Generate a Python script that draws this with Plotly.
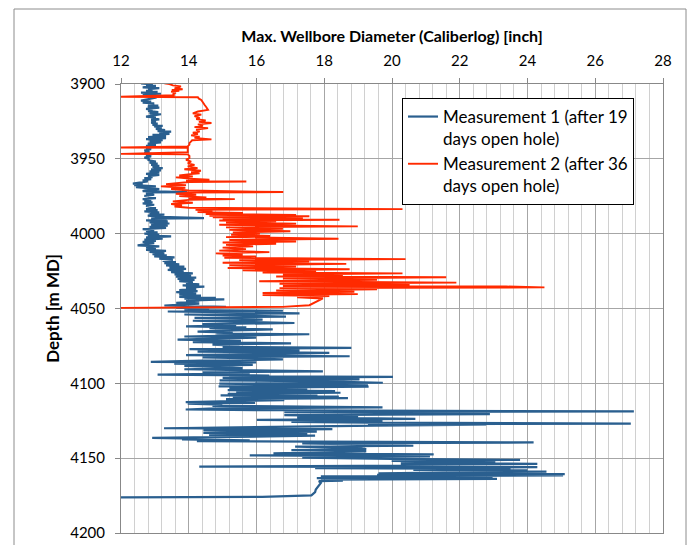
import plotly.graph_objects as go

# ---------------- data ----------------
# Measurement 1 (after 19 days open hole): depth [m MD] and max. diameter [inch]
m1_depth = [
    3899.0, 3899.6, 3900.2, 3900.7, 3901.3, 3902.2, 3902.8, 3903.4, 3904.0, 3904.6,
    3905.2, 3905.8, 3906.5, 3907.0, 3907.6, 3908.3, 3909.0, 3909.6, 3910.3, 3911.1,
    3911.8, 3912.5, 3912.9, 3913.8, 3914.5, 3915.1, 3915.8, 3916.6, 3917.3, 3918.0,
    3918.8, 3919.6, 3920.2, 3921.0, 3921.8, 3922.5, 3923.0, 3923.6, 3924.4, 3925.1,
    3925.8, 3926.5, 3927.3, 3928.0, 3928.4, 3929.2, 3930.0, 3930.8, 3931.5, 3931.8,
    3932.5, 3933.3, 3934.0, 3934.6, 3935.4, 3936.2, 3936.8, 3937.6, 3938.4, 3939.0,
    3939.8, 3940.7, 3941.3, 3942.1, 3942.9, 3943.6, 3944.3, 3945.1, 3946.0, 3946.8,
    3947.6, 3948.4, 3949.2,
    3950.0, 3950.8, 3951.8, 3952.5, 3953.2, 3954.0, 3954.7, 3955.4, 3956.2, 3957.0,
    3957.7, 3958.4, 3959.2, 3960.0, 3960.7, 3961.5, 3962.2, 3962.9, 3963.6, 3964.4,
    3965.1, 3965.8, 3966.5, 3966.9, 3967.6, 3968.4, 3969.0, 3969.6, 3970.2, 3970.9,
    3971.6, 3972.2, 3972.5, 3973.2, 3974.0, 3974.8, 3975.5, 3976.2, 3976.9, 3977.6,
    3978.4, 3979.1, 3979.8, 3980.7, 3981.4, 3982.1, 3982.9, 3983.6, 3984.3, 3985.1,
    3985.8, 3986.5, 3987.3, 3988.0, 3988.8, 3989.6, 3989.9, 3990.6, 3991.1, 3991.8,
    3992.4, 3993.2, 3994.0, 3994.7, 3995.4, 3996.2, 3997.0, 3997.7, 3998.4, 3999.2,
    4000.0,
    4000.7, 4001.3, 4001.8, 4002.5, 4003.3, 4004.0, 4004.8, 4005.5, 4006.3, 4007.0,
    4007.8, 4008.5, 4009.2, 4010.0, 4010.8, 4011.5, 4012.2, 4013.0, 4013.7, 4014.5,
    4015.2, 4015.9, 4016.7, 4017.5, 4018.2, 4019.0, 4019.7, 4020.5, 4021.2, 4022.0,
    4022.7, 4023.5, 4024.2, 4024.9, 4025.7, 4026.5, 4027.2, 4028.0, 4028.7, 4029.4,
    4030.2, 4030.9, 4031.7, 4032.4, 4033.2, 4033.9, 4034.6, 4035.4, 4036.1, 4036.9,
    4037.7, 4038.4, 4039.1, 4039.9, 4040.6, 4041.4, 4042.2, 4042.9, 4043.5, 4043.9,
    4044.7, 4045.4, 4046.2, 4046.8, 4047.4, 4048.0, 4048.9,
    4049.4, 4050.3, 4051.0, 4051.5, 4052.0, 4053.2, 4054.0, 4055.4, 4056.2, 4056.8,
    4057.5, 4058.2, 4059.7, 4060.5, 4061.2, 4061.9, 4062.6, 4063.2, 4064.0, 4064.8,
    4065.5, 4066.2, 4066.7, 4067.2, 4068.0, 4068.7, 4069.4, 4070.0, 4070.8, 4071.6,
    4072.4, 4073.3, 4074.1, 4075.0, 4075.6, 4076.3, 4077.1, 4078.0, 4078.8, 4079.7,
    4080.5, 4081.2, 4081.9, 4082.7, 4083.4, 4084.0, 4084.8, 4085.6, 4086.0, 4086.8,
    4087.7, 4088.4, 4089.2, 4089.9, 4090.6, 4091.3, 4092.0, 4092.6, 4093.4, 4094.2,
    4094.8, 4095.3, 4095.7, 4096.4, 4097.4, 4098.0, 4098.7, 4099.6, 4100.2, 4101.3,
    4102.0, 4102.2, 4103.0, 4103.6, 4104.5, 4105.2, 4105.8, 4106.3, 4107.0, 4107.5,
    4108.1, 4108.8, 4109.4, 4109.9, 4110.5, 4111.2, 4111.8, 4112.6, 4113.0, 4113.5,
    4114.2, 4115.0, 4116.1, 4116.8, 4117.5, 4118.0, 4118.8, 4119.3, 4119.9, 4120.6,
    4121.2, 4122.0, 4122.8, 4123.8, 4124.4, 4125.1, 4125.8, 4126.3, 4126.9, 4127.3,
    4127.6, 4128.3, 4129.0, 4130.0, 4130.6, 4131.4, 4132.2, 4133.2, 4133.8, 4134.4,
    4135.0, 4135.7, 4136.5, 4136.9, 4137.4, 4138.1, 4138.7, 4139.5, 4140.1, 4140.8,
    4141.7, 4142.3, 4143.1, 4143.9, 4144.6, 4145.5, 4146.2, 4146.8, 4147.5, 4148.2,
    4148.9, 4149.6, 4150.5, 4151.1, 4151.8, 4152.5, 4153.2, 4153.8, 4154.5, 4155.0,
    4155.6, 4156.0, 4156.7, 4157.2, 4157.8, 4158.2, 4158.6, 4159.0, 4159.6, 4160.2,
    4160.7, 4161.1, 4161.5, 4162.1, 4162.9, 4163.4, 4163.8, 4164.3, 4165.1, 4165.4,
    4166.5, 4168.0, 4169.5, 4171.0, 4172.7, 4174.9, 4175.8, 4176.2,
]
m1_diam = [
    12.80, 12.59, 12.94, 12.74, 13.03, 12.64, 13.13, 12.80, 12.93, 12.74,
    13.08, 12.59, 13.18, 12.64, 13.15, 12.84, 13.05, 12.93, 12.70, 12.59,
    12.89, 12.64, 12.98, 12.80, 13.10, 12.79, 13.13, 12.74, 12.93, 12.80,
    13.10, 12.84, 13.18, 12.90, 12.74, 13.03, 12.89, 13.13, 12.89, 13.03,
    12.89, 13.08, 12.93, 13.23, 12.98, 13.20, 13.03, 13.30, 13.08, 13.48,
    13.13, 13.43, 12.93, 13.33, 12.80, 13.33, 12.74, 13.23, 12.84, 13.18,
    12.79, 13.03, 12.74, 12.93, 12.74, 12.89, 12.69, 12.84, 12.69, 12.93,
    12.74, 12.89, 12.69,
    12.84, 12.79, 13.03, 12.84, 13.08, 12.89, 13.13, 12.93, 13.23, 12.89,
    13.18, 12.84, 13.13, 12.74, 13.13, 12.80, 12.93, 12.69, 12.89, 12.64,
    12.79, 12.59, 12.35, 12.64, 12.39, 13.03, 12.44, 12.80, 13.13, 12.74,
    12.64, 13.96, 12.84, 12.74, 12.98, 12.69, 12.93, 13.03, 12.64, 12.89,
    12.69, 12.93, 12.64, 12.98, 12.74, 12.93, 13.03, 12.74, 13.08, 12.69,
    13.13, 12.84, 13.28, 12.79, 13.18, 14.45, 12.89, 13.35, 12.74, 13.38,
    12.84, 13.43, 12.89, 13.38, 12.84, 13.33, 12.64, 12.98, 12.74, 13.08,
    12.69,
    13.13, 12.79, 13.48, 12.74, 13.23, 12.69, 13.03, 12.64, 12.98, 12.69,
    12.49, 13.13, 12.74, 13.03, 12.74, 13.33, 12.84, 13.28, 12.93, 13.35,
    12.98, 13.58, 13.13, 13.53, 13.23, 13.62, 13.28, 13.72, 13.33, 13.87,
    13.43, 13.92, 13.38, 13.85, 13.48, 14.12, 13.58, 14.07, 13.62, 14.22,
    13.67, 14.17, 13.72, 14.12, 13.92, 14.31, 13.82, 14.46, 13.92, 14.22,
    13.72, 14.26, 13.63, 14.22, 13.72, 14.36, 13.72, 14.80, 13.87, 15.05,
    13.92, 14.31, 13.63, 14.31, 13.58, 13.28, 15.10,
    13.63, 14.60, 13.87, 16.78, 13.38, 17.27, 13.87, 16.87, 14.17, 15.60,
    16.18, 14.12, 17.12, 14.40, 15.40, 13.92, 15.70, 14.61, 16.48, 15.00,
    14.26, 15.30, 14.81, 17.56, 15.10, 13.87, 15.99, 14.50, 13.67, 15.54,
    14.12, 17.02, 14.70, 15.50, 15.00, 18.80, 14.02, 17.27, 14.26, 18.15,
    15.20, 13.92, 18.75, 14.41, 16.00, 16.78, 14.40, 12.88, 15.99, 13.57,
    15.89, 13.87, 15.00, 15.59, 13.87, 15.40, 17.96, 14.41, 15.80, 13.08,
    16.38, 15.20, 20.03, 15.00, 19.04, 14.91, 18.00, 19.73, 14.90, 19.29,
    14.88, 19.31, 15.20, 17.50, 15.15, 18.32, 15.40, 18.48, 15.15, 17.80,
    14.94, 18.43, 15.30, 18.70, 15.10, 16.82, 15.80, 13.91, 15.96, 13.97,
    14.99, 14.70, 19.72, 14.61, 13.91, 16.82, 27.14, 16.82, 20.50, 22.89,
    16.82, 19.00, 17.20, 20.69, 16.01, 19.72, 17.03, 19.29, 27.05, 19.29,
    22.78, 19.50, 17.00, 13.27, 18.24, 14.43, 17.78, 14.43, 17.50, 14.60,
    17.73, 14.40, 12.92, 14.24, 13.80, 15.80, 14.24, 24.18, 17.35, 19.00,
    20.63, 17.14, 19.00, 19.24, 17.03, 19.24, 17.35, 16.50, 21.23, 15.80,
    21.12, 17.35, 19.99, 23.78, 19.99, 23.05, 20.26, 24.29, 20.26, 20.60,
    14.31, 24.29, 17.73, 23.50, 20.63, 24.00, 22.95, 24.56, 21.50, 19.60,
    25.10, 19.56, 25.05, 17.90, 22.97, 17.78, 23.10, 17.90, 18.55, 17.84,
    17.90, 17.84, 17.80, 17.75, 17.73, 17.62, 16.17, 12.00,
]

# Measurement 2 (after 36 days open hole)
m2_depth = [
    3899.5, 3900.0, 3900.9, 3901.6, 3902.0, 3902.9, 3903.5, 3904.0, 3904.6, 3905.1,
    3905.8, 3906.7, 3907.5, 3908.0, 3908.5, 3908.9, 3909.8, 3910.7, 3912.0, 3914.0,
    3915.5, 3917.3, 3918.4, 3919.6, 3920.5, 3921.5, 3922.6, 3923.5, 3924.4, 3925.3,
    3926.1, 3927.0, 3928.0, 3928.8, 3929.5, 3930.5, 3931.8, 3932.6, 3933.5, 3934.3,
    3935.2, 3936.0, 3937.0, 3937.6, 3938.4, 3939.5, 3940.5, 3941.7, 3942.4, 3942.7,
    3944.0, 3945.5, 3946.7, 3947.0, 3948.0, 3949.6,
    3950.6, 3951.8, 3953.0, 3954.0, 3955.0, 3956.2, 3957.0, 3958.0, 3959.0, 3959.6,
    3960.4, 3961.1, 3961.8, 3962.4, 3963.2, 3964.0, 3964.6, 3965.1, 3965.5, 3966.3,
    3966.9, 3967.6, 3968.4, 3969.3, 3970.2, 3971.2, 3972.2, 3972.6, 3973.3, 3974.0,
    3974.9, 3975.8, 3976.4, 3976.9, 3977.4, 3978.4, 3979.3, 3980.2, 3981.0, 3981.8,
    3982.7, 3983.6, 3984.0, 3984.8, 3985.6, 3986.2, 3986.9, 3987.5, 3988.0, 3988.4,
    3989.0, 3989.6, 3990.1, 3990.7, 3991.2, 3991.8, 3992.5, 3993.3, 3994.0, 3994.5,
    3995.1, 3995.8, 3996.7, 3997.5, 3998.4, 3999.2,
    4000.0, 4000.7, 4001.5, 4002.3, 4003.4, 4004.2, 4005.2, 4005.9, 4006.7, 4007.5,
    4008.5, 4009.3, 4010.3, 4011.3, 4012.3, 4013.2, 4014.1, 4014.7, 4015.2, 4016.1,
    4017.0, 4017.7, 4018.6, 4019.4, 4020.2, 4021.1, 4022.0, 4022.9, 4023.8, 4024.5,
    4025.3, 4025.9, 4026.5, 4027.3, 4028.0, 4028.6, 4029.1, 4030.0, 4030.9, 4031.8,
    4032.7, 4033.5, 4034.3, 4035.0, 4035.3, 4035.9, 4036.4, 4037.2, 4038.0, 4038.8,
    4039.6, 4040.4, 4041.0, 4041.7, 4042.5, 4043.3, 4045.5, 4047.8, 4048.9, 4049.6,
]
m2_diam = [
    13.28, 13.43, 13.53, 13.77, 13.72, 13.58, 13.82, 13.50, 13.72, 13.48,
    13.62, 13.53, 13.58, 12.00, 12.00, 14.27, 14.30, 14.37, 14.42, 14.47,
    14.52, 14.57, 14.27, 14.12, 14.37, 14.17, 14.32, 14.22, 14.50, 14.30,
    14.67, 14.27, 14.42, 14.17, 14.57, 14.22, 14.32, 14.12, 14.27, 14.07,
    14.32, 14.17, 14.67, 14.10, 14.07, 14.02, 14.02, 13.97, 12.00, 13.97,
    13.97, 13.97, 12.00, 13.97, 14.02, 14.02,
    13.92, 14.07, 13.97, 14.17, 13.97, 14.26, 13.87, 14.36, 14.07, 14.32,
    13.97, 13.72, 14.12, 13.62, 14.02, 14.61, 13.92, 15.70, 14.02, 13.53,
    13.33, 13.92, 13.18, 13.90, 13.48, 14.00, 16.79, 14.00, 13.62, 14.22,
    13.72, 14.52, 14.00, 15.36, 14.00, 13.53, 14.12, 13.48, 13.80, 13.58,
    14.00, 20.31, 14.20, 14.70, 14.26, 15.60, 14.50, 17.17, 14.61, 17.56,
    14.71, 17.37, 15.00, 18.45, 14.90, 16.58, 15.10, 17.17, 14.90, 16.30,
    18.99, 15.10, 16.78, 15.20, 17.00, 15.30,
    16.10, 15.25, 16.40, 15.10, 18.42, 15.20, 17.17, 15.00, 16.58, 15.10,
    15.90, 15.00, 15.69, 14.90, 16.38, 14.80, 15.59, 15.00, 15.99, 15.05,
    20.40, 15.49, 17.56, 15.00, 18.65, 15.20, 17.17, 15.15, 18.75, 15.59,
    17.76, 16.18, 20.31, 16.78, 18.55, 16.58, 21.60, 16.78, 19.56, 16.08,
    21.90, 16.68, 20.52, 16.78, 23.37, 24.50, 16.68, 19.56, 16.58, 18.89,
    16.18, 18.99, 16.18, 18.15, 17.20, 17.96, 17.76, 17.56, 16.77, 12.00,
]

series_names = [
    "Measurement 1 (after 19<br>days open hole)",
    "Measurement 2 (after 36<br>days open hole)",
]
series_colors = ["#2A5F8F", "#FF2A00"]

x_title = "Max. Wellbore Diameter (Caliberlog) [inch]"
y_title = "Depth [m MD]"
x_range = [12, 28]
y_range = [4200, 3900]

# ---------------- figure ----------------
W, H = 688, 545
PL, PR, PT, PB = 121, 663, 84, 533          # plot-area edges in pixels
L, T, R, B = PL, PT, W - PR, H - PB
pw, ph = PR - PL, PB - PT


def px_x(sx):
    return (sx - PL) / pw


def px_y(sy):
    return (PB - sy) / ph


fig = go.Figure()
fig.add_trace(go.Scatter(x=m1_diam, y=m1_depth, mode="lines", name=series_names[0],
                         line=dict(color=series_colors[0], width=2.2)))
fig.add_trace(go.Scatter(x=m2_diam, y=m2_depth, mode="lines", name=series_names[1],
                         line=dict(color=series_colors[1], width=1.9)))

font_main = "Lato, 'Open Sans', sans-serif"

fig.update_layout(
    width=W, height=H,
    margin=dict(l=L, r=R, t=T, b=B, pad=0, autoexpand=False),
    paper_bgcolor="white", plot_bgcolor="white",
    font=dict(family=font_main, size=15, color="#000000"),
    showlegend=True,
    hovermode=False,
    legend=dict(
        x=px_x(402), y=px_y(98), xanchor="left", yanchor="top",
        bgcolor="white", bordercolor="#000000", borderwidth=1,
        font=dict(family=font_main, size=17, color="#000000"),
        valign="top", tracegroupgap=0,
    ),
    xaxis=dict(
        side="top", range=x_range, tick0=12, dtick=2, automargin=False,
        showgrid=True, gridcolor="#A6A6A6", gridwidth=1,
        minor=dict(dtick=0.4, showgrid=True, gridcolor="#D0D0D0", gridwidth=1),
        ticks="outside", ticklen=5, tickcolor="#888888",
        showline=True, linecolor="#888888", linewidth=1, mirror=True,
        zeroline=False, ticklabelstandoff=6,
        title=dict(text="<b>" + x_title + "</b>", standoff=4,
                   font=dict(family=font_main, size=16)),
        tickfont=dict(family=font_main, size=15),
    ),
    yaxis=dict(
        range=y_range, tick0=3900, dtick=50, automargin=False,
        showgrid=True, gridcolor="#A6A6A6", gridwidth=1,
        ticks="outside", ticklen=5, tickcolor="#888888",
        showline=True, linecolor="#888888", linewidth=1, mirror=True,
        zeroline=False, ticklabelstandoff=7,
        title=dict(text="<b>" + y_title + "</b>", standoff=6,
                   font=dict(family=font_main, size=17)),
        tickfont=dict(family=font_main, size=15),
    ),
    shapes=[dict(
        type="rect", xref="paper", yref="paper",
        x0=px_x(14), x1=px_x(686), y0=px_y(560), y1=px_y(9),
        line=dict(color="#8C8C8C", width=1), fillcolor="rgba(0,0,0,0)", layer="below",
    )],
)

# remove the default 8 px page margin so the 688x545 figure fills the window exactly
fig.write_html("out.html",
               config={"displayModeBar": False, "staticPlot": True},
               post_script="document.body.style.margin='0px';"
                           "document.body.style.overflow='hidden';")
